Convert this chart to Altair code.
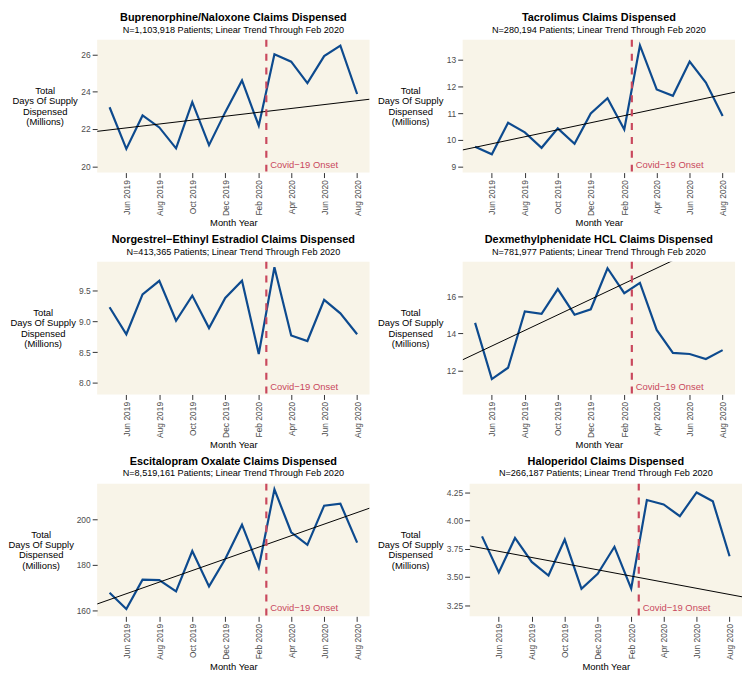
import altair as alt
import pandas as pd

MONTHS = ["2019-05-01", "2019-06-01", "2019-07-01", "2019-08-01", "2019-09-01",
          "2019-10-01", "2019-11-01", "2019-12-01", "2020-01-01", "2020-02-01",
          "2020-03-01", "2020-04-01", "2020-05-01", "2020-06-01", "2020-07-01",
          "2020-08-01"]

TITLES = ["Buprenorphine/Naloxone Claims Dispensed", "Tacrolimus Claims Dispensed",
          "Norgestrel\u2212Ethinyl Estradiol Claims Dispensed", "Dexmethylphenidate HCL Claims Dispensed",
          "Escitalopram Oxalate Claims Dispensed", "Haloperidol Claims Dispensed"]

PATIENTS = ["1,103,918", "280,194", "413,365", "781,977", "8,519,161", "266,187"]

BUPRENORPHINE = [23.16, 20.93, 22.72, 22.08, 20.96, 23.44, 21.13, 22.9, 24.6, 22.17,
                 26.0, 25.6, 24.45, 25.9, 26.46, 23.87]
TACROLIMUS = [9.74, 9.46, 10.64, 10.28, 9.70, 10.43, 9.85, 10.99, 11.56, 10.39,
              13.54, 11.89, 11.65, 12.94, 12.15, 10.89]
NORGESTREL = [9.23, 8.79, 9.44, 9.66, 9.01, 9.42, 8.89, 9.38, 9.66, 8.47,
              9.88, 8.77, 8.68, 9.35, 9.13, 8.79]
DEXMETHYL = [14.56, 11.53, 12.14, 15.17, 15.05, 16.38, 15.0, 15.29, 17.5, 16.16,
             16.71, 14.18, 12.94, 12.88, 12.61, 13.09]
ESCITALOPRAM = [167.9, 160.8, 173.6, 173.4, 168.5, 186.1, 170.7, 182.6, 197.6, 178.9,
                213.0, 194.3, 188.8, 205.9, 206.8, 189.8]
HALOPERIDOL = [3.859, 3.54, 3.845, 3.633, 3.513, 3.831, 3.395, 3.529, 3.767, 3.398,
               4.18, 4.141, 4.038, 4.247, 4.169, 3.683]

SERIES = [BUPRENORPHINE, TACROLIMUS, NORGESTREL, DEXMETHYL, ESCITALOPRAM, HALOPERIDOL]

# trend line values at the left and right edge of the time axis (None = not visible)
TREND_START = [21.87, 9.62, None, 12.57, 163.0, 3.775]
TREND_END = [23.59, 11.79, None, 19.5, 204.8, 3.325]

Y_DOMAINS = [[19.66, 26.77], [8.77, 13.75], [7.81, 9.97], [10.7, 17.85], [157.6, 215.5], [3.152, 4.325]]
Y_TICKS = [[20, 22, 24, 26], [9, 10, 11, 12, 13], [8.0, 8.5, 9.0, 9.5], [12, 14, 16],
           [160, 180, 200], [3.25, 3.5, 3.75, 4.0, 4.25]]
Y_FORMATS = ["d", "d", ".1f", "d", "d", ".2f"]
Y_TITLE_X = [-53, -53, -55, -53, -57, -60]

X_TICKS = [(2019, 6), (2019, 8), (2019, 10), (2019, 12), (2020, 2), (2020, 4), (2020, 6), (2020, 8)]
X_START = "2019-04-08T00:00:00"
X_END = "2020-08-24T00:00:00"
COVID_DATE = "2020-02-15T00:00:00"

BLUE = "#0D4A8E"
RED = "#C9485D"
FONT = "Liberation Sans"
W, H = 275, 134
LH = 10.5


def panel(i):
    df = pd.DataFrame({"month": [m + "T00:00:00" for m in MONTHS], "value": SERIES[i]})
    xscale = alt.Scale(domain=[alt.DateTime(year=2019, month=4, date=8),
                               alt.DateTime(year=2020, month=8, date=24)])
    yscale = alt.Scale(domain=Y_DOMAINS[i], nice=False, zero=False)
    xaxis = alt.Axis(values=[alt.DateTime(year=y, month=m, date=1) for y, m in X_TICKS],
                     tickCount=40, format="%b %Y", formatType="time", labelAngle=-90,
                     title="Month Year", titlePadding=2, labelOverlap=False, labelBound=False)
    yaxis = alt.Axis(values=Y_TICKS[i], tickCount=40, format=Y_FORMATS[i], labelOverlap=False,
                     title=["Total", "Days Of Supply", "Dispensed", "(Millions)"],
                     titleAngle=0, titleAlign="center", titleBaseline="top",
                     titleX=Y_TITLE_X[i], titleY=H / 2 - 2 * LH, titleLineHeight=LH)
    line = alt.Chart(df).mark_line(color=BLUE, strokeWidth=2.2).encode(
        x=alt.X("month:T", scale=xscale, axis=xaxis),
        y=alt.Y("value:Q", scale=yscale, axis=yaxis),
    )
    layers = []
    if TREND_START[i] is not None:
        tdf = pd.DataFrame({"month": [X_START, X_END], "value": [TREND_START[i], TREND_END[i]]})
        trend = alt.Chart(tdf).mark_line(color="black", strokeWidth=1, clip=True).encode(
            x="month:T", y="value:Q")
        layers.append(trend)
    cdf = pd.DataFrame({"month": [COVID_DATE], "label": ["Covid\u221219 Onset"]})
    rule = alt.Chart(cdf).mark_rule(color=RED, strokeWidth=2.2, strokeDash=[7, 7]).encode(
        x="month:T")
    text = alt.Chart(cdf).mark_text(align="left", baseline="bottom", dx=4, dy=-3, color=RED,
                                    fontSize=9.5, font=FONT).encode(
        x="month:T", y=alt.value(H), text="label:N")
    layers = [line] + layers + [rule, text]
    return alt.layer(*layers).properties(
        width=W, height=H,
        title=alt.TitleParams(
            text=TITLES[i],
            subtitle="N=" + PATIENTS[i] + " Patients; Linear Trend Through Feb 2020",
            fontSize=11, fontWeight="bold", font=FONT, color="black",
            subtitleFontSize=9.2, subtitleFont=FONT, subtitleColor="black",
            subtitlePadding=3, anchor="middle", frame="group", offset=4),
    )


rows = [alt.hconcat(panel(2 * r), panel(2 * r + 1), spacing=8) for r in range(3)]
chart = alt.vconcat(*rows, spacing=6).properties(padding=0).configure_view(
    fill="#F8F4E8", strokeWidth=0
).configure_axis(
    domain=False, grid=False, tickColor="#333333", tickSize=5, tickWidth=1,
    labelColor="#4D4D4D", labelFontSize=8.5, labelFont=FONT, labelPadding=2,
    titleFont=FONT, titleFontSize=9.5, titleFontWeight="normal", titleColor="black",
)

chart.save("out.html", embed_options={"renderer": "svg", "actions": False})
